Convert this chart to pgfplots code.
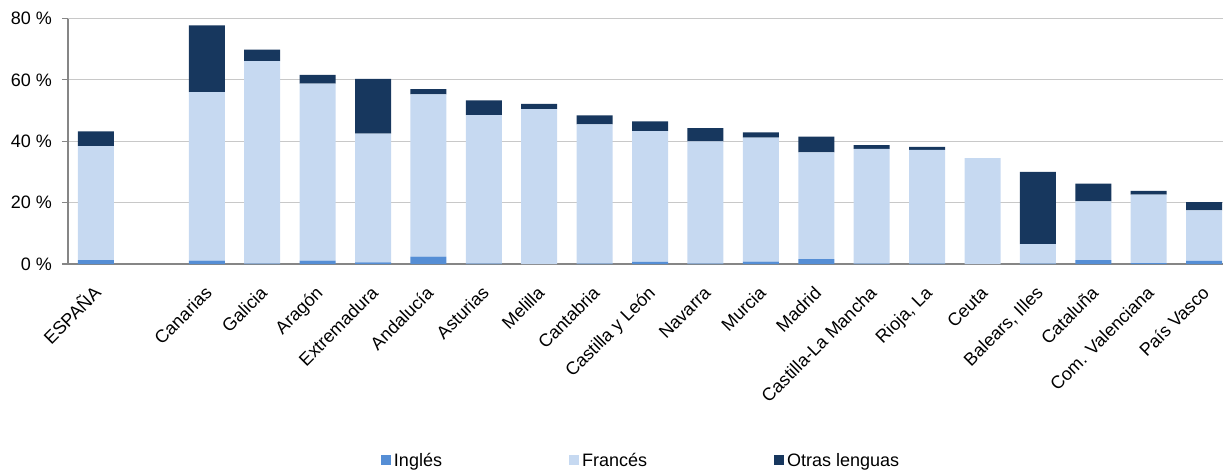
\documentclass[border=0pt]{standalone}
\usepackage{pgfplots}
\pgfplotsset{compat=1.18}
\usepackage{pgfplotstable}
\usepackage{fontspec}
\setmainfont{Liberation Sans}
\definecolor{cIng}{RGB}{85,142,213}
\definecolor{cFra}{RGB}{198,217,241}
\definecolor{cOtr}{RGB}{23,55,94}
\definecolor{axgray}{RGB}{134,134,134}
\definecolor{grgray}{RGB}{200,200,200}
\pgfplotstableread{
x I F O
0 1.3 37.1 4.8
2 1.1 54.9 21.8
3 0.1 66.0 3.8
4 1.1 57.7 2.8
5 0.5 42.0 17.8
6 2.4 52.9 1.7
7 0.1 48.4 4.8
8 0.0 50.5 1.7
9 0.1 45.4 2.9
10 0.7 42.6 3.2
11 0.1 39.9 4.3
12 0.8 40.4 1.7
13 1.6 34.8 5.1
14 0.1 37.4 1.2
15 0.1 37.1 1.0
16 0.0 34.5 0.0
17 0.1 6.4 23.5
18 1.3 19.1 5.8
19 0.3 22.3 1.2
20 1.0 16.5 2.7
}\datatable
\pgfplotsset{sqlegend/.style={legend image code/.code={\path[##1,draw=none] (0pt,-5pt) rectangle (10pt,5pt);}}}
\begin{document}
\begin{tikzpicture}
\begin{axis}[
 scale only axis, width=1155pt, height=245.5pt,
 xmin=-0.505, xmax=20.34, ymin=0, ymax=80,
 ybar stacked, bar width=36pt,
 axis x line*=bottom, axis y line*=left,
 axis line style={draw=axgray, line width=1.2pt},
 ymajorgrids, grid style={draw=grgray, line width=1.2pt},
 xtick={0,2,3,...,20},
 xticklabels={ESPAÑA,Canarias,Galicia,Aragón,Extremadura,Andalucía,Asturias,Melilla,Cantabria,Castilla y León,Navarra,Murcia,Madrid,Castilla-La Mancha,{Rioja, La},Ceuta,{Balears, Illes},Cataluña,Com. Valenciana,País Vasco},
 x tick style={draw=none},
 xticklabel style={font=\fontsize{18}{21}\selectfont, text height=12.9pt, text depth=0pt, inner sep=0pt, xshift=-3pt, yshift=-15pt, rotate=45, anchor=north east},
 ytick={0,20,40,60,80},
 yticklabels={0 \%,20 \%,40 \%,60 \%,80 \%},
 y tick style={draw=axgray, line width=1.2pt},
 tick align=outside, major tick length=6pt,
 yticklabel style={font=\fontsize{18}{21}\selectfont, inner sep=0pt, anchor=east, xshift=-10pt},
 legend style={draw=none, fill=none, inner sep=0pt, outer sep=0pt, at={(axis description cs:0.271,-0.800)}, anchor=west, font=\fontsize{18}{21}\selectfont, nodes={inner sep=0pt}, /tikz/every odd column/.append style={column sep=3pt}, /tikz/every even column/.append style={column sep=127pt}},
 legend columns=3,
]
\addplot[fill=cIng, draw=none, sqlegend] table[x=x,y=I]{\datatable};
\addplot[fill=cFra, draw=none, sqlegend] table[x=x,y=F]{\datatable};
\addplot[fill=cOtr, draw=none, sqlegend] table[x=x,y=O]{\datatable};
\legend{Inglés,Francés,Otras lenguas}
\end{axis}
\pgfresetboundingbox
\useasboundingbox (-68pt,-208pt) rectangle (1156pt,264pt);
\end{tikzpicture}
\end{document}
